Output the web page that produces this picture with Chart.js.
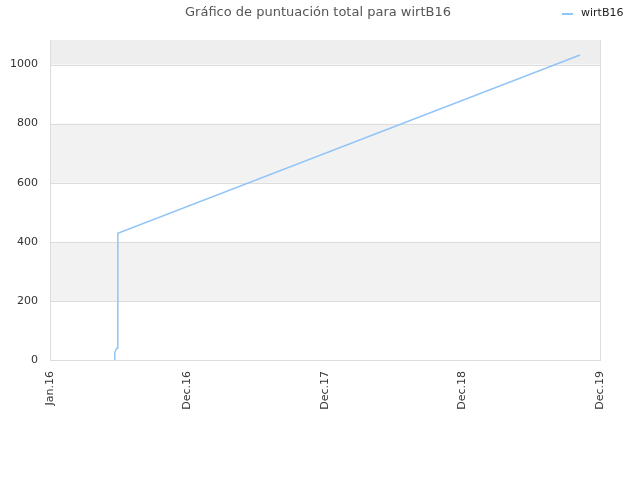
<!DOCTYPE html>
<html>
<head>
<meta charset="utf-8">
<script src="https://cdn.jsdelivr.net/npm/chart.js@4/dist/chart.umd.min.js"></script>
<style>
  html, body { margin: 0; padding: 0; background: #fff; }
  #wrap { width: 640px; height: 480px; position: relative; }
</style>
</head>
<body>
<div id="wrap"><canvas id="chart"></canvas></div>
<script>
// days since Jan 1 2016 and total score
var dayValues = [172, 172, 175, 178, 180, 1407];
var scoreValues = [0, 25, 35, 40, 429, 1032];
var tickLabels = ['Jan.16', 'Dec.16', 'Dec.17', 'Dec.18', 'Dec.19'];
var yTicks = [0, 200, 400, 600, 800, 1000];
var seriesName = 'wirtB16';
var titleText = 'Gráfico de puntuación total para wirtB16';

var FONT = '"DejaVu Sans", sans-serif';
var LINE_COLOR = '#92c5f7';

var points = dayValues.map(function (d, i) { return { x: d, y: scoreValues[i] }; });

var decorPlugin = {
    id: 'decor',
    beforeDatasetsDraw: function (chart) {
        var ctx = chart.ctx, a = chart.chartArea, y = chart.scales.y;
        ctx.save();
        // alternating bands
        var edges = yTicks.concat([y.max]);
        for (var i = 0; i < edges.length - 1; i++) {
            if (i % 2 === 1) {
                var top = y.getPixelForValue(edges[i + 1]);
                var bot = y.getPixelForValue(edges[i]);
                ctx.fillStyle = i === edges.length - 2 ? '#eeeeee' : '#f2f2f2';
                ctx.fillRect(a.left, top, a.right - a.left, bot - top);
            }
        }
        ctx.strokeStyle = '#dddddd';
        ctx.lineWidth = 1;
        yTicks.forEach(function (v) {
            var py = Math.round(y.getPixelForValue(v)) + 0.5;
            ctx.beginPath(); ctx.moveTo(a.left, py); ctx.lineTo(a.right, py); ctx.stroke();
        });
        ctx.beginPath();
        ctx.moveTo(Math.round(a.right) + 0.5, a.top);
        ctx.lineTo(Math.round(a.right) + 0.5, a.bottom);
        ctx.moveTo(Math.round(a.left) + 0.5, a.top);
        ctx.lineTo(Math.round(a.left) + 0.5, a.bottom);
        ctx.stroke();
        ctx.restore();
    },
    afterDraw: function (chart) {
        var ctx = chart.ctx;
        ctx.save();
        ctx.textBaseline = 'middle';
        ctx.font = '13px ' + FONT;
        ctx.fillStyle = '#555555';
        ctx.textAlign = 'center';
        ctx.fillText(titleText, 318, 13);
        // legend
        ctx.strokeStyle = LINE_COLOR;
        ctx.lineWidth = 2;
        ctx.beginPath(); ctx.moveTo(562, 14); ctx.lineTo(573, 14); ctx.stroke();
        ctx.font = '11px ' + FONT;
        ctx.fillStyle = '#222222';
        ctx.textAlign = 'left';
        ctx.fillText(seriesName, 581, 13);
        ctx.restore();
    }
};

new Chart(document.getElementById('chart'), {
    type: 'line',
    data: {
        datasets: [{
            label: seriesName,
            data: points,
            borderColor: LINE_COLOR,
            borderWidth: 1.5,
            pointRadius: 0,
            fill: false,
            tension: 0
        }]
    },
    options: {
        responsive: true,
        maintainAspectRatio: false,
        animation: false,
        layout: { padding: { top: 40, right: 40, left: 0, bottom: 0 } },
        plugins: {
            legend: { display: false },
            title: { display: false },
            tooltip: { enabled: false }
        },
        scales: {
            x: {
                type: 'linear',
                min: 0,
                max: 1460,
                grid: { display: false },
                border: { display: true, color: '#dddddd' },
                afterBuildTicks: function (scale) {
                    scale.ticks = tickLabels.map(function (l, i) { return { value: i * 365 }; });
                },
                ticks: {
                    minRotation: 90,
                    maxRotation: 90,
                    autoSkip: false,
                    color: '#333333',
                    font: { family: FONT, size: 11 },
                    padding: 3,
                    callback: function (v) { return tickLabels[Math.round(v / 365)]; }
                },
                afterFit: function (scale) { scale.height = 120; }
            },
            y: {
                min: 0,
                max: 1083,
                grid: { display: false },
                border: { display: false },
                afterBuildTicks: function (scale) {
                    scale.ticks = yTicks.map(function (v) { return { value: v }; });
                },
                ticks: {
                    color: '#333333',
                    font: { family: FONT, size: 11 },
                    padding: 4,
                    callback: function (v) { return String(v); }
                },
                afterFit: function (scale) { scale.width = 50; }
            }
        }
    },
    plugins: [decorPlugin]
});
</script>
</body>
</html>
